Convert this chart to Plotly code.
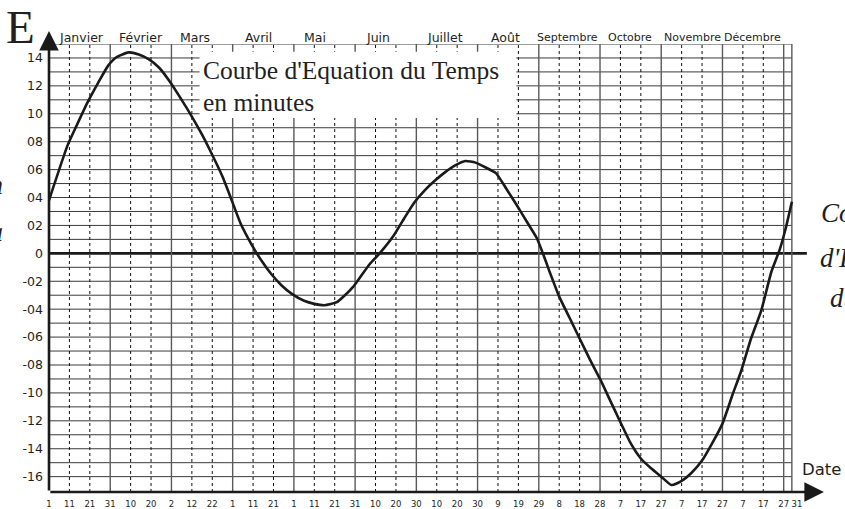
import plotly.graph_objects as go

# ---------------- data ----------------
days = [1, 10, 15, 20, 25, 30, 34, 40, 45, 50, 55, 60, 66, 71, 76, 80, 86, 90, 95,
        100, 105, 110, 115, 120, 126, 131, 136, 142, 146, 150, 154, 158, 163, 170,
        175, 180, 185, 190, 195, 200, 205, 210, 215, 220, 225, 230, 235, 240, 243,
        246, 251, 256, 261, 266, 271, 276, 281, 286, 291, 296, 301, 306, 311, 316,
        321, 326, 331, 336, 340, 345, 350, 355, 359, 362, 365]
eot = [3.8, 7.7, 9.3, 10.85, 12.2, 13.45, 14.05, 14.4, 14.25, 13.9, 13.3, 12.35,
       11.0, 9.8, 8.5, 7.35, 5.5, 4.0, 2.1, 0.7, -0.5, -1.5, -2.3, -2.9, -3.4,
       -3.62, -3.72, -3.5, -3.0, -2.4, -1.6, -0.8, 0.0, 1.3, 2.5, 3.65, 4.5, 5.2,
       5.8, 6.3, 6.62, 6.5, 6.15, 5.75, 4.65, 3.5, 2.3, 1.1, 0.0, -1.2, -3.1, -4.6,
       -6.1, -7.6, -9.0, -10.55, -12.1, -13.6, -14.7, -15.4, -16.0, -16.6, -16.3,
       -15.7, -14.85, -13.6, -12.2, -10.1, -8.5, -6.1, -4.1, -1.3, 0.25, 1.8, 3.7]

months = ["Janvier", "Février", "Mars", "Avril", "Mai", "Juin", "Juillet", "Août",
          "Septembre", "Octobre", "Novembre", "Décembre"]

grid_days = [1 + 10 * k for k in range(37)] + [365]
x_tick_text = ["1", "11", "21", "31", "10", "20", "2", "12", "22", "1", "11", "21",
               "1", "11", "21", "31", "10", "20", "30", "10", "20", "30", "9", "19",
               "29", "8", "18", "28", "7", "17", "27", "7", "17", "27", "7", "17",
               "27", "31"]

y_tick_vals = [14, 12, 10, 8, 6, 4, 2, 0, -2, -4, -6, -8, -10, -12, -14, -16]
y_tick_text = ["14", "12", "10", "08", "06", "04", "02", "0", "-02", "-04", "-06",
               "-08", "-10", "-12", "-14", "-16"]

# ---------------- layout constants ----------------
W, H = 845, 509
XMAX = 368.5
L, T, B = 49, 44, 17
PW = 743 * (XMAX - 1) / 364.0          # keeps day 365 at x = 792 px
R = W - L - PW
PH = H - T - B
label_pos = grid_days[:-1] + [367.5]   # last label sits just right of the end line
month_pos = [16.7, 46.1, 72.6, 103.5, 131.4, 162.3, 195.1, 224.5, 254.9, 285.8, 316.2, 345.6]
month_size = [12.5] * 8 + [11] * 4

def px(X):
    return (X - L) / PW

def py(Y):
    return (H - B - Y) / PH

SANS = "DejaVu Sans"
SERIF = "Liberation Serif"
INK = "#231f20"

fig = go.Figure()
fig.add_trace(go.Scatter(x=days, y=eot, mode="lines",
                         line=dict(color="#1a1a1a", width=2.6, shape="spline", smoothing=0.5),
                         hoverinfo="skip", showlegend=False))

shapes = []
# horizontal grid every minute
for v in range(-16, 16):
    if v == 0:
        continue
    shapes.append(dict(type="line", xref="x", yref="y", x0=1, x1=365, y0=v, y1=v,
                       line=dict(color="#3a3a3a", width=1), layer="below"))
# vertical grid every 10 days
for k, d in enumerate(grid_days):
    if d == 1:
        continue
    solid = (k % 3 == 0) or d == 365
    shapes.append(dict(type="line", xref="x", yref="y", x0=d, x1=d, y0=-17.1, y1=15,
                       line=dict(color="#5a5a5a" if solid else "#111111",
                                 width=1.4 if solid else 1,
                                 dash="solid" if solid else "3px,3px"),
                       layer="below"))
# white title box
shapes.append(dict(type="rect", xref="x", yref="y", x0=74.8, x1=230, y0=9.7, y1=14.45,
                   fillcolor="white", line=dict(width=0), layer="below"))
# zero line (extends past the grid)
shapes.append(dict(type="line", xref="paper", yref="y", x0=0, x1=px(807), y0=0, y1=0,
                   line=dict(color="#1a1a1a", width=2.6), layer="below"))

annotations = []
# axes with arrows
annotations.append(dict(xref="paper", yref="paper", x=px(824), y=0, ax=-(824 - L), ay=0,
                        axref="pixel", ayref="pixel", text="", showarrow=True,
                        arrowhead=2, arrowsize=1.5, arrowwidth=2.6, arrowcolor="#1a1a1a",
                        standoff=0, startstandoff=0))
annotations.append(dict(xref="paper", yref="paper", x=0, y=py(31), ax=0, ay=(H - B - 31),
                        axref="pixel", ayref="pixel", text="", showarrow=True,
                        arrowhead=2, arrowsize=1.5, arrowwidth=2.6, arrowcolor="#1a1a1a",
                        standoff=0, startstandoff=0))
# months
for m, xp, fs in zip(months, month_pos, month_size):
    annotations.append(dict(xref="x", yref="paper", x=xp, y=py(37), text=m,
                            showarrow=False, xanchor="center", yanchor="middle",
                            font=dict(family=SANS, size=fs, color=INK)))
# E label
annotations.append(dict(xref="paper", yref="paper", x=px(20.5), y=py(27), text="E",
                        showarrow=False, xanchor="center", yanchor="middle",
                        font=dict(family=SERIF, size=47, color=INK)))
# Date label
annotations.append(dict(xref="paper", yref="paper", x=px(821.5), y=py(469), text="Date",
                        showarrow=False, xanchor="center", yanchor="middle",
                        font=dict(family=SANS, size=16.5, color=INK)))
# title
annotations.append(dict(xref="paper", yref="paper", x=px(201), y=py(70),
                        text="Courbe d'Equation du Temps", showarrow=False,
                        xanchor="left", yanchor="middle",
                        font=dict(family=SERIF, size=25.5, color=INK)))
annotations.append(dict(xref="paper", yref="paper", x=px(201), y=py(102),
                        text="en minutes", showarrow=False,
                        xanchor="left", yanchor="middle",
                        font=dict(family=SERIF, size=25.5, color=INK)))
# side texts, cut off by the picture edge as in the original
for txt, X, Y in [("Courbe", 819, 213), ("d'Equation", 818, 258), ("du Temps", 828, 298)]:
    annotations.append(dict(xref="paper", yref="paper", x=px(X), y=py(Y),
                            text="<i>" + txt + "</i>", showarrow=False,
                            xanchor="left", yanchor="middle",
                            font=dict(family=SERIF, size=27, color=INK)))
for txt, Y in [("Equation", 185), ("la", 232)]:
    annotations.append(dict(xref="paper", yref="paper", x=px(5), y=py(Y),
                            text="<i>" + txt + "</i>", showarrow=False,
                            xanchor="right", yanchor="middle",
                            font=dict(family=SERIF, size=27, color=INK)))

fig.update_layout(
    width=W, height=H, template="none",
    margin=dict(l=L, r=R, t=T, b=B, pad=0),
    paper_bgcolor="white", plot_bgcolor="white",
    showlegend=False, shapes=shapes, annotations=annotations,
    xaxis=dict(range=[1, XMAX], showgrid=False, zeroline=False, showline=False,
               tickmode="array", tickvals=label_pos, ticktext=x_tick_text,
               ticks="", tickangle=0, ticklabelstandoff=5, automargin=False,
               tickfont=dict(family=SANS, size=8.5, color=INK), fixedrange=True),
    yaxis=dict(range=[-17.1, 15], showgrid=False, zeroline=False, showline=False,
               tickmode="array", tickvals=y_tick_vals, ticktext=y_tick_text,
               ticks="", ticklabelstandoff=5, automargin=False,
               tickfont=dict(family=SANS, size=12.5, color=INK), fixedrange=True),
)

fig.write_html("out.html", config={"displayModeBar": False},
               post_script="document.body.style.margin='0px';document.body.style.overflow='hidden';")
